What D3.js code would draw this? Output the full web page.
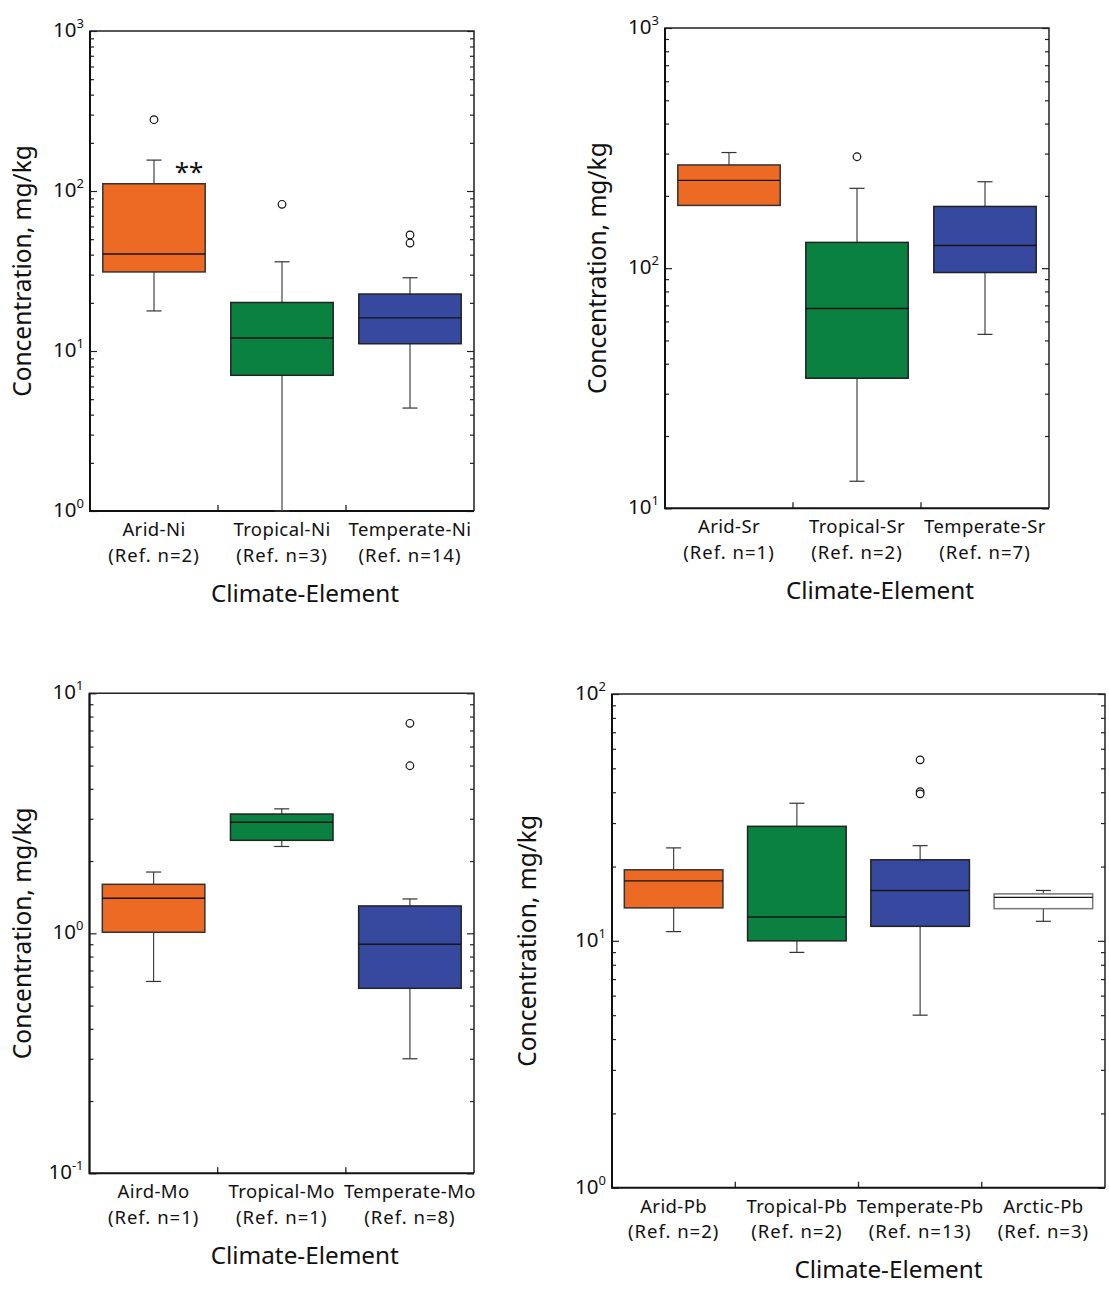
<!DOCTYPE html>
<html>
<head>
<meta charset="utf-8">
<script src="https://cdn.jsdelivr.net/npm/d3@7"></script>
<style>
  body { margin: 0; background: #fff; }
  svg { display: block; }
  text { font-family: "Noto Sans", "DejaVu Sans", sans-serif; fill: #111; }
</style>
</head>
<body>
<svg id="chart" width="1109" height="1289"></svg>
<script>
// ---- Nickel ----
const niCategories = ["Arid-Ni", "Tropical-Ni", "Temperate-Ni"];
const niRefs = ["(Ref. n=2)", "(Ref. n=3)", "(Ref. n=14)"];
const niLow = [17.8, 1.0, 4.4];
const niQ1 = [31.2, 7.05, 11.1];
const niMedian = [40.4, 12.05, 16.1];
const niQ3 = [111, 20.1, 22.7];
const niHigh = [156, 36.1, 28.7];
const niOutliers = [[279], [82.6], [53.1, 47.3]];

// ---- Strontium ----
const srCategories = ["Arid-Sr", "Tropical-Sr", "Temperate-Sr"];
const srRefs = ["(Ref. n=1)", "(Ref. n=2)", "(Ref. n=7)"];
const srLow = [182.5, 12.96, 53];
const srQ1 = [182.5, 34.8, 95.9];
const srMedian = [232, 67.9, 124.3];
const srQ3 = [269, 128, 180.7];
const srHigh = [303, 215, 229];
const srOutliers = [[], [291], []];

// ---- Molybdenum ----
const moCategories = ["Aird-Mo", "Tropical-Mo", "Temperate-Mo"];
const moRefs = ["(Ref. n=1)", "(Ref. n=1)", "(Ref. n=8)"];
const moLow = [0.63, 2.30, 0.30];
const moQ1 = [1.01, 2.44, 0.59];
const moMedian = [1.40, 2.90, 0.90];
const moQ3 = [1.60, 3.14, 1.30];
const moHigh = [1.80, 3.30, 1.39];
const moOutliers = [[], [], [7.5, 4.99]];

// ---- Lead ----
const pbCategories = ["Arid-Pb", "Tropical-Pb", "Temperate-Pb", "Arctic-Pb"];
const pbRefs = ["(Ref. n=2)", "(Ref. n=2)", "(Ref. n=13)", "(Ref. n=3)"];
const pbLow = [10.9, 8.98, 5.0, 12.0];
const pbQ1 = [13.6, 10.0, 11.45, 13.5];
const pbMedian = [17.5, 12.5, 16.0, 15.0];
const pbQ3 = [19.4, 29.1, 21.3, 15.5];
const pbHigh = [23.8, 36.1, 24.3, 16.0];
const pbOutliers = [[], [], [54.1, 40.2, 39.4], []];

// climate colours: arid, tropical, temperate, arctic
const climateFill = ["#ec6a24", "#0b8141", "#36499e", "#ffffff"];
const climateStroke = ["#333333", "#222222", "#222222", "#777777"];

const yTitle = "Concentration, mg/kg";
const xTitle = "Climate-Element";

const svg = d3.select("#chart");

function drawPanel(p) {
  const x = d3.scaleBand().domain(p.categories).range([p.left, p.right]);
  const y = d3.scaleLog().domain(p.domain).range([p.bottom, p.top]);
  const g = svg.append("g");

  const e0 = Math.round(Math.log10(p.domain[0]));
  const e1 = Math.round(Math.log10(p.domain[1]));
  const major = [], minor = [];
  for (let e = e0; e <= e1; e++) {
    major.push(Math.pow(10, e));
    if (e < e1) for (let m = 2; m <= 9; m++) minor.push(m * Math.pow(10, e));
  }

  // inward ticks on left and right axes
  const tickAxes = [
    [d3.axisLeft(y).tickValues(minor).tickSize(-4), p.left],
    [d3.axisLeft(y).tickValues(major).tickSize(-7), p.left],
    [d3.axisRight(y).tickValues(minor).tickSize(-4), p.right],
    [d3.axisRight(y).tickValues(major).tickSize(-7), p.right]
  ];
  tickAxes.forEach(([ax, tx]) => {
    const a = g.append("g").attr("transform", `translate(${tx},0)`)
      .call(ax.tickFormat(""));
    a.select(".domain").remove();
    a.selectAll("line").attr("stroke", "#222").attr("stroke-width", 1.2);
  });

  // category boundary ticks on the bottom axis
  const bounds = p.categories.slice(1).map(c => x(c));
  g.selectAll(".btick").data(bounds).enter().append("line")
    .attr("x1", d => d).attr("x2", d => d)
    .attr("y1", p.bottom).attr("y2", p.bottom - 6)
    .attr("stroke", "#222").attr("stroke-width", 1.3);

  // frame
  g.append("path")
    .attr("d", `M${p.left},${p.bottom}V${p.top}H${p.right}V${p.bottom}`)
    .attr("fill", "none").attr("stroke", "#222").attr("stroke-width", 1.5);
  g.append("path")
    .attr("d", `M${p.left},${p.top}V${p.bottom}H${p.right}`)
    .attr("fill", "none").attr("stroke", "#111").attr("stroke-width", 2);

  // power-of-ten tick labels
  major.forEach(v => {
    const e = Math.round(Math.log10(v));
    const t = g.append("text")
      .attr("x", p.left - 6).attr("y", y(v) + 6)
      .attr("text-anchor", "end").attr("font-size", 20.5);
    t.append("tspan").text("10");
    t.append("tspan").attr("font-size", 13).attr("dy", -9).text(String(e));
  });

  // category labels
  p.categories.forEach((c, i) => {
    const cx = x(c) + x.bandwidth() / 2;
    g.append("text").attr("x", cx).attr("y", p.bottom + 25)
      .attr("text-anchor", "middle").attr("font-size", 18.5)
      .attr("letter-spacing", 0.4).text(c);
    g.append("text").attr("x", cx).attr("y", p.bottom + 50.5)
      .attr("text-anchor", "middle").attr("font-size", 18.5)
      .attr("letter-spacing", 1).text(p.refs[i]);
  });

  // axis titles
  g.append("text").attr("x", (p.left + p.right) / 2 + p.titleShift).attr("y", p.bottom + 90.5)
    .attr("text-anchor", "middle").attr("font-size", 24.3).text(xTitle);
  g.append("text")
    .attr("transform", `translate(${p.yTitleX},${(p.top + p.bottom) / 2}) rotate(-90)`)
    .attr("text-anchor", "middle").attr("font-size", 24.5).text(yTitle);

  // boxes
  const bw = x.bandwidth() * 0.8;
  const cap = 15;
  p.categories.forEach((c, i) => {
    const cx = x(c) + x.bandwidth() / 2;
    const bx = g.append("g");
    // whiskers
    [[p.low[i], p.q1[i]], [p.q3[i], p.high[i]]].forEach(([a, b]) => {
      bx.append("line").attr("x1", cx).attr("x2", cx)
        .attr("y1", y(a)).attr("y2", y(b))
        .attr("stroke", "#444").attr("stroke-width", 1.2);
    });
    [p.low[i], p.high[i]].forEach(v => {
      bx.append("line").attr("x1", cx - cap / 2).attr("x2", cx + cap / 2)
        .attr("y1", y(v)).attr("y2", y(v))
        .attr("stroke", "#333").attr("stroke-width", 1.2);
    });
    // box
    bx.append("rect")
      .attr("x", cx - bw / 2).attr("width", bw)
      .attr("y", y(p.q3[i])).attr("height", y(p.q1[i]) - y(p.q3[i]))
      .attr("fill", climateFill[i]).attr("stroke", climateStroke[i]).attr("stroke-width", 1.5);
    // median
    bx.append("line").attr("x1", cx - bw / 2).attr("x2", cx + bw / 2)
      .attr("y1", y(p.median[i])).attr("y2", y(p.median[i]))
      .attr("stroke", "#151515").attr("stroke-width", 1.4);
    // outliers
    bx.selectAll("circle").data(p.outliers[i]).enter().append("circle")
      .attr("cx", cx).attr("cy", d => y(d)).attr("r", 3.8)
      .attr("fill", "#fff").attr("stroke", "#111").attr("stroke-width", 1.2);
  });

  return { x, y, g };
}

const ni = drawPanel({
  categories: niCategories, refs: niRefs, low: niLow, q1: niQ1, median: niMedian,
  q3: niQ3, high: niHigh, outliers: niOutliers, domain: [1, 1000],
  left: 90, right: 474, top: 31, bottom: 511, yTitleX: 31, titleShift: 23
});
// significance marker next to the arid nickel box
ni.g.append("text")
  .attr("x", ni.x("Arid-Ni") + ni.x.bandwidth() / 2 + 35)
  .attr("y", ni.y(niHigh[0]) + 21)
  .attr("text-anchor", "middle").attr("font-size", 26).text("**");

drawPanel({
  categories: srCategories, refs: srRefs, low: srLow, q1: srQ1, median: srMedian,
  q3: srQ3, high: srHigh, outliers: srOutliers, domain: [10, 1000],
  left: 665, right: 1049, top: 28, bottom: 508.3, yTitleX: 606, titleShift: 23
});

drawPanel({
  categories: moCategories, refs: moRefs, low: moLow, q1: moQ1, median: moMedian,
  q3: moQ3, high: moHigh, outliers: moOutliers, domain: [0.1, 10],
  left: 89.5, right: 474, top: 693.3, bottom: 1173.3, yTitleX: 31, titleShift: 23
});

drawPanel({
  categories: pbCategories, refs: pbRefs, low: pbLow, q1: pbQ1, median: pbMedian,
  q3: pbQ3, high: pbHigh, outliers: pbOutliers, domain: [1, 100],
  left: 612, right: 1105, top: 694, bottom: 1187.7, yTitleX: 536, titleShift: 30
});
</script>
</body>
</html>
